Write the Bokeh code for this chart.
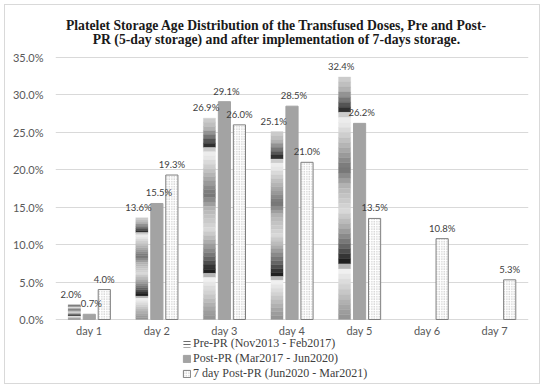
import numpy as np
from bokeh.plotting import figure
from bokeh.models import (ColumnDataSource, Range1d, FixedTicker, PrintfTickFormatter,
                          Label, Legend, LegendItem)
from bokeh.transform import dodge
from bokeh.core.properties import value
from bokeh.embed import file_html
from bokeh.resources import INLINE

# ---------------- data ----------------
days = [1, 2, 3, 4, 5, 6, 7]
day_labels = ["day 1", "day 2", "day 3", "day 4", "day 5", "day 6", "day 7"]
pre_pr = [2.0, 13.6, 26.9, 25.1, 32.4, None, None]
post_pr = [0.7, 15.5, 29.1, 28.5, 26.2, None, None]
post7 = [4.0, 19.3, 26.0, 21.0, 13.5, 10.8, 5.3]
series_names = ["Pre-PR (Nov2013 - Feb2017)", "Post-PR (Mar2017 - Jun2020)",
                "7 day Post-PR (Jun2020 - Mar2021)"]
y_ticks = [0, 5, 10, 15, 20, 25, 30, 35]

TITLE1 = "Platelet Storage Age Distribution of the Transfused Doses, Pre and Post-"
TITLE2 = "PR (5-day storage) and after implementation of 7-days storage."

# gradient profile (fraction from top, grey level) used for the Pre-PR fill texture
prof_f = [0.00, 0.05, 0.10, 0.14, 0.16, 0.20, 0.30, 0.38, 0.45, 0.55, 0.62, 0.70, 0.76, 0.79, 0.85, 0.95, 1.00]
prof_g = [210, 180, 110, 40, 242, 230, 170, 115, 180, 218, 170, 100, 30, 246, 218, 165, 145]

W, H = 536, 380
PX_PER_PCT = 262 / 35.0
Y_TOP = 35 + 52 / PX_PER_PCT
Y_BOT = -(H - 314) / PX_PER_PCT

p = figure(width=W, height=H, output_backend="svg", toolbar_location=None,
           x_range=Range1d(0.5, 7.5), y_range=Range1d(Y_BOT, Y_TOP),
           min_border_left=50, min_border_right=13, min_border_top=0, min_border_bottom=0)
p.styles = {"border": "1px solid #d9d9d9", "margin-left": "4px", "margin-top": "4px"}
p.outline_line_color = None
p.background_fill_color = "white"
p.border_fill_color = "white"

# axes
p.xaxis.fixed_location = 0.35
p.xaxis.ticker = FixedTicker(ticks=days)
p.xaxis.major_label_overrides = {d: l for d, l in zip(days, day_labels)}
p.yaxis.ticker = FixedTicker(ticks=y_ticks)
p.yaxis.formatter = PrintfTickFormatter(format="%.1f%%")
for ax in (p.xaxis[0], p.yaxis[0]):
    ax.axis_line_color = None
    ax.major_tick_line_color = None
    ax.minor_tick_line_color = None
    ax.major_label_text_font = "Lato"
    ax.major_label_text_font_size = "11px"
    ax.major_label_text_color = "#595959"
p.yaxis.major_label_standoff = 6
p.xaxis.major_label_standoff = 1
p.xgrid.grid_line_color = None
p.ygrid.grid_line_color = "#d9d9d9"
p.ygrid.grid_line_width = 1

BW = 0.18
OFF = 0.222

# ---- Pre-PR: textured (gradient-sliced) bars ----
N = 48
xs, bots, tops, cols = [], [], [], []
for d, v in zip(days, pre_pr):
    if v is None:
        continue
    for i in range(N):
        f = (i + 0.5) / N
        g = int(np.interp(f, prof_f, prof_g))
        xs.append(d)
        tops.append(v * (1 - i / N))
        bots.append(v * (1 - (i + 1) / N))
        cols.append("#%02x%02x%02x" % (g, g, g))
src_pre = ColumnDataSource(dict(x=xs, top=tops, bottom=bots, color=cols))
p.vbar(x=dodge("x", -OFF, range=p.x_range), top="top", bottom="bottom", width=BW,
       fill_color="color", line_color="color", line_width=0.3, source=src_pre)

# legend proxy for Pre-PR (zero-height bars at the Pre-PR positions, hatched style)
src_pre_leg = ColumnDataSource(dict(x=[d for d, v in zip(days, pre_pr) if v is not None]))
r_pre_leg = p.vbar(x=dodge("x", -OFF, range=p.x_range), top=0, bottom=0, width=BW,
                   fill_color="white", line_color=None,
                   hatch_pattern="horizontal_line", hatch_color="#6e6e6e",
                   hatch_scale=3, hatch_weight=1, source=src_pre_leg)

# ---- Post-PR ----
src_post = ColumnDataSource(dict(x=[d for d, v in zip(days, post_pr) if v is not None],
                                 top=[v for v in post_pr if v is not None]))
r_post = p.vbar(x=dodge("x", 0, range=p.x_range), top="top", width=BW,
                fill_color="#a3a3a3", line_color="#a3a3a3", source=src_post)

# ---- 7 day Post-PR ----
src_7 = ColumnDataSource(dict(x=days, top=post7))
r_7 = p.vbar(x=dodge("x", OFF, range=p.x_range), top="top", width=BW,
             fill_color="white", line_color="#7f7f7f", line_width=1,
             hatch_pattern="dot", hatch_color="#b0b0b0", hatch_scale=2.5, hatch_weight=1,
             source=src_7)

# ---- data labels ----
lab_kw = dict(text_font=value("Lato"), text_font_size="9.5px", text_color="#404040",
              text_align="center", text_baseline="bottom", y_offset=-5)
pre_lab = ColumnDataSource(dict(x=[d for d, v in zip(days, pre_pr) if v is not None],
                                y=[v for v in pre_pr if v is not None],
                                t=["%.1f%%" % v for v in pre_pr if v is not None]))
post_lab = ColumnDataSource(dict(x=[d for d, v in zip(days, post_pr) if v is not None],
                                 y=[v for v in post_pr if v is not None],
                                 t=["%.1f%%" % v for v in post_pr if v is not None]))
p7_lab = ColumnDataSource(dict(x=days, y=post7, t=["%.1f%%" % v for v in post7]))
p.text(x=dodge("x", -OFF - 0.05, range=p.x_range), y="y", text="t", source=pre_lab, **lab_kw)
p.text(x=dodge("x", 0.03, range=p.x_range), y="y", text="t", source=post_lab, **lab_kw)
p.text(x=dodge("x", OFF, range=p.x_range), y="y", text="t", source=p7_lab, **lab_kw)

# ---- title (two lines, inside the frame's top margin) ----
for txt, yy in ((TITLE1, 360.5), (TITLE2, 346)):
    p.add_layout(Label(x=221, y=yy, x_units="screen", y_units="screen", text=txt,
                       text_font="Liberation Serif", text_font_style="bold",
                       text_font_size="13.7px", text_color="#1a1a1a",
                       text_align="center", text_baseline="middle"))

# ---- legend ----
legend = Legend(items=[LegendItem(label=series_names[0], renderers=[r_pre_leg], index=0),
                       LegendItem(label=series_names[1], renderers=[r_post]),
                       LegendItem(label=series_names[2], renderers=[r_7])],
                location=(127, 4), orientation="vertical",
                label_text_font="Liberation Serif", label_text_font_size="12px",
                label_text_color="#404040", glyph_width=9, glyph_height=9,
                label_height=13, label_standoff=2, spacing=0, padding=0, margin=0,
                border_line_color=None, background_fill_alpha=0)
p.add_layout(legend, "center")

open("out.html", "w").write(file_html(p, INLINE))
